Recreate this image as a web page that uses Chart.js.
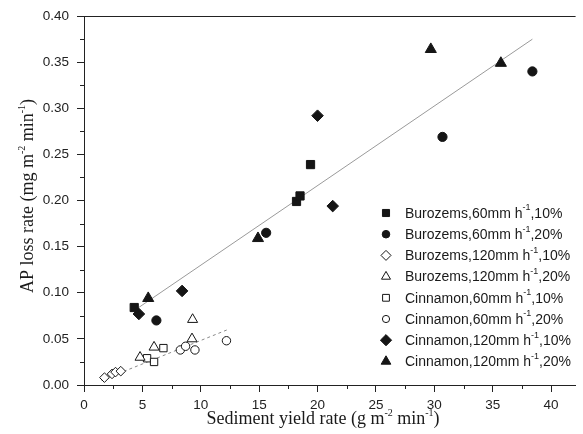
<!DOCTYPE html>
<html>
<head>
<meta charset="utf-8">
<script src="https://cdn.jsdelivr.net/npm/chart.js@4.4.1/dist/chart.umd.min.js"></script>
<style>
  html, body { margin: 0; padding: 0; background: #fff; }
  #wrap { width: 583px; height: 434px; }
</style>
</head>
<body>
<div id="wrap"><canvas id="c" width="583" height="434"></canvas></div>
<script>
// Sediment yield rate (g m-2 min-1) vs AP loss rate (mg m-2 min-1)
const burozems60_10_x = [4.3, 18.2, 18.5, 19.4];
const burozems60_10_y = [0.084, 0.199, 0.205, 0.239];
const burozems60_20_x = [6.2, 15.6, 30.7, 38.4];
const burozems60_20_y = [0.070, 0.165, 0.269, 0.340];
const burozems120_10_x = [1.75, 2.4, 2.7, 3.15];
const burozems120_10_y = [0.008, 0.012, 0.014, 0.015];
const burozems120_20_x = [4.8, 6.0, 9.25, 9.3];
const burozems120_20_y = [0.030, 0.041, 0.050, 0.071];
const cinnamon60_10_x = [5.4, 6.0, 6.8];
const cinnamon60_10_y = [0.029, 0.025, 0.040];
const cinnamon60_20_x = [8.25, 8.7, 9.5, 12.2];
const cinnamon60_20_y = [0.038, 0.042, 0.038, 0.048];
const cinnamon120_10_x = [4.7, 8.4, 20.0, 21.3];
const cinnamon120_10_y = [0.077, 0.102, 0.292, 0.194];
const cinnamon120_20_x = [5.5, 14.9, 29.7, 35.7];
const cinnamon120_20_y = [0.094, 0.159, 0.364, 0.349];

// fitted trend lines (end points)
const fitHigh_x = [4.45, 38.4];
const fitHigh_y = [0.082, 0.375];
const fitLow_x = [1.5, 12.3];
const fitLow_y = [0.005, 0.060];

const seriesNames = [
  ['Burozems,60mm h', ',10%'],
  ['Burozems,60mm h', ',20%'],
  ['Burozems,120mm h', ',10%'],
  ['Burozems,120mm h', ',20%'],
  ['Cinnamon,60mm h', ',10%'],
  ['Cinnamon,60mm h', ',20%'],
  ['Cinnamon,120mm h', ',10%'],
  ['Cinnamon,120mm h', ',20%']
];

const xTickStep = 5;
const yTickStep = 0.05;

const INK = '#151515';
const pts = (xs, ys) => xs.map((x, i) => ({ x: x, y: ys[i] }));

function series(name, xs, ys, style, filled, r) {
  return {
    label: name[0] + '-1' + name[1],
    data: pts(xs, ys),
    pointStyle: style,
    pointRadius: r,
    pointHoverRadius: r,
    borderWidth: 1,
    pointBorderColor: INK,
    pointBackgroundColor: filled ? INK : '#fff',
    borderColor: INK,
    backgroundColor: filled ? INK : '#fff',
    showLine: false,
    order: 1
  };
}

const datasets = [
  series(seriesNames[0], burozems60_10_x, burozems60_10_y, 'rect', true, 5.8),
  series(seriesNames[1], burozems60_20_x, burozems60_20_y, 'circle', true, 4.6),
  series(seriesNames[2], burozems120_10_x, burozems120_10_y, 'rectRot', false, 4.8),
  series(seriesNames[3], burozems120_20_x, burozems120_20_y, 'triangle', false, 5.8),
  series(seriesNames[4], cinnamon60_10_x, cinnamon60_10_y, 'rect', false, 5.2),
  series(seriesNames[5], cinnamon60_20_x, cinnamon60_20_y, 'circle', false, 4.2),
  series(seriesNames[6], cinnamon120_10_x, cinnamon120_10_y, 'rectRot', true, 5.8),
  series(seriesNames[7], cinnamon120_20_x, cinnamon120_20_y, 'triangle', true, 6.4),
  {
    label: 'fit-high', data: pts(fitHigh_x, fitHigh_y), showLine: true,
    borderColor: '#9a9a9a', borderWidth: 1, pointRadius: 0, fill: false, order: 2
  },
  {
    label: 'fit-low', data: pts(fitLow_x, fitLow_y), showLine: true,
    borderColor: '#8a8a8a', borderWidth: 1, borderDash: [3, 3], pointRadius: 0, fill: false, order: 2
  }
];

// text with superscript pieces: parts = [[text, isSup], ...]
function drawRich(ctx, parts, x, y, font, supFont, supRise) {
  let cx = x;
  for (const [t, sup] of parts) {
    ctx.font = sup ? supFont : font;
    ctx.fillText(t, cx, sup ? y - supRise : y);
    cx += ctx.measureText(t).width;
  }
  return cx;
}
function richWidth(ctx, parts, font, supFont) {
  let w = 0;
  for (const [t, sup] of parts) {
    ctx.font = sup ? supFont : font;
    w += ctx.measureText(t).width;
  }
  return w;
}

const decorPlugin = {
  id: 'decor',
  afterDraw(chart) {
    const ctx = chart.ctx;
    const ca = chart.chartArea;
    const xs = chart.scales.x, ys = chart.scales.y;
    ctx.save();
    ctx.strokeStyle = '#222';
    ctx.lineWidth = 1;
    // top frame line
    ctx.beginPath();
    ctx.moveTo(ca.left - 7, Math.round(ca.top) + 0.5);
    ctx.lineTo(ca.right, Math.round(ca.top) + 0.5);
    ctx.stroke();
    // minor ticks
    ctx.beginPath();
    for (let v = xTickStep / 2; v < xs.max; v += xTickStep) {
      const px = Math.round(xs.getPixelForValue(v)) + 0.5;
      ctx.moveTo(px, ca.bottom);
      ctx.lineTo(px, ca.bottom + 4);
    }
    for (let v = yTickStep / 2; v < ys.max; v += yTickStep) {
      const py = Math.round(ys.getPixelForValue(v)) + 0.5;
      ctx.moveTo(ca.left, py);
      ctx.lineTo(ca.left - 4, py);
    }
    ctx.stroke();

    // axis titles
    ctx.fillStyle = '#1a1a1a';
    ctx.textBaseline = 'alphabetic';
    ctx.textAlign = 'left';
    const tFont = '18px "Liberation Serif", "Times New Roman", serif';
    const sFont = '10px "Liberation Serif", "Times New Roman", serif';
    const xTitle = [['Sediment yield rate (g m', false], ['-2', true], [' min', false], ['-1', true], [')', false]];
    const xw = richWidth(ctx, xTitle, tFont, sFont);
    drawRich(ctx, xTitle, 323 - xw / 2, 424, tFont, sFont, 8);

    const yTitle = [['AP loss rate (mg m', false], ['-2', true], [' min', false], ['-1', true], [')', false]];
    const yw = richWidth(ctx, yTitle, tFont, sFont);
    ctx.save();
    ctx.translate(33, 196);
    ctx.rotate(-Math.PI / 2);
    drawRich(ctx, yTitle, -yw / 2, 0, tFont, sFont, 8);
    ctx.restore();

    // legend
    const lFont = '14px "Liberation Sans", Arial, sans-serif';
    const lSup = '9px "Liberation Sans", Arial, sans-serif';
    const rowY0 = 213, rowStep = 21.2;
    const legendR = [5, 3.8, 5, 5.2, 4.8, 3.6, 5.6, 5.6];
    seriesNames.forEach((nm, i) => {
      const ds = chart.data.datasets[i];
      const y = rowY0 + i * rowStep;
      ctx.fillStyle = ds.pointBackgroundColor;
      ctx.strokeStyle = ds.pointBorderColor;
      ctx.lineWidth = 1;
      Chart.helpers.drawPoint(ctx, { pointStyle: ds.pointStyle, radius: legendR[i], rotation: 0, borderWidth: 1 }, 386, y);
      ctx.fillStyle = '#1a1a1a';
      ctx.textBaseline = 'middle';
      drawRich(ctx, [[nm[0], false], ['-1', true], [nm[1], false]], 405, y + 1, lFont, lSup, 6);
    });
    ctx.restore();
  }
};

const tickFont = { family: '"Liberation Sans", Arial, sans-serif', size: 13.5 };

new Chart(document.getElementById('c'), {
  type: 'scatter',
  data: { datasets: datasets },
  plugins: [decorPlugin],
  options: {
    responsive: false,
    animation: false,
    devicePixelRatio: 1,
    layout: { padding: { top: 15, right: 0, left: 0, bottom: 0 } },
    plugins: { legend: { display: false }, tooltip: { enabled: false } },
    scales: {
      x: {
        type: 'linear', position: 'bottom', min: 0, max: 42.1,
        border: { display: true, color: '#222', width: 1 },
        grid: { drawOnChartArea: false, drawTicks: true, tickLength: 7, tickColor: '#222' },
        ticks: { stepSize: xTickStep, includeBounds: false, color: '#222', font: tickFont, padding: 5, maxRotation: 0 },
        afterFit(s) { s.height = 49; }
      },
      y: {
        type: 'linear', position: 'left', min: 0, max: 0.4,
        border: { display: true, color: '#222', width: 1 },
        grid: { drawOnChartArea: false, drawTicks: true, tickLength: 7, tickColor: '#222' },
        ticks: { stepSize: yTickStep, includeBounds: false, color: '#222', font: tickFont, padding: 8,
                 callback: v => Number(v).toFixed(2) },
        afterFit(s) { s.width = 84; }
      }
    }
  }
});
</script>
</body>
</html>
